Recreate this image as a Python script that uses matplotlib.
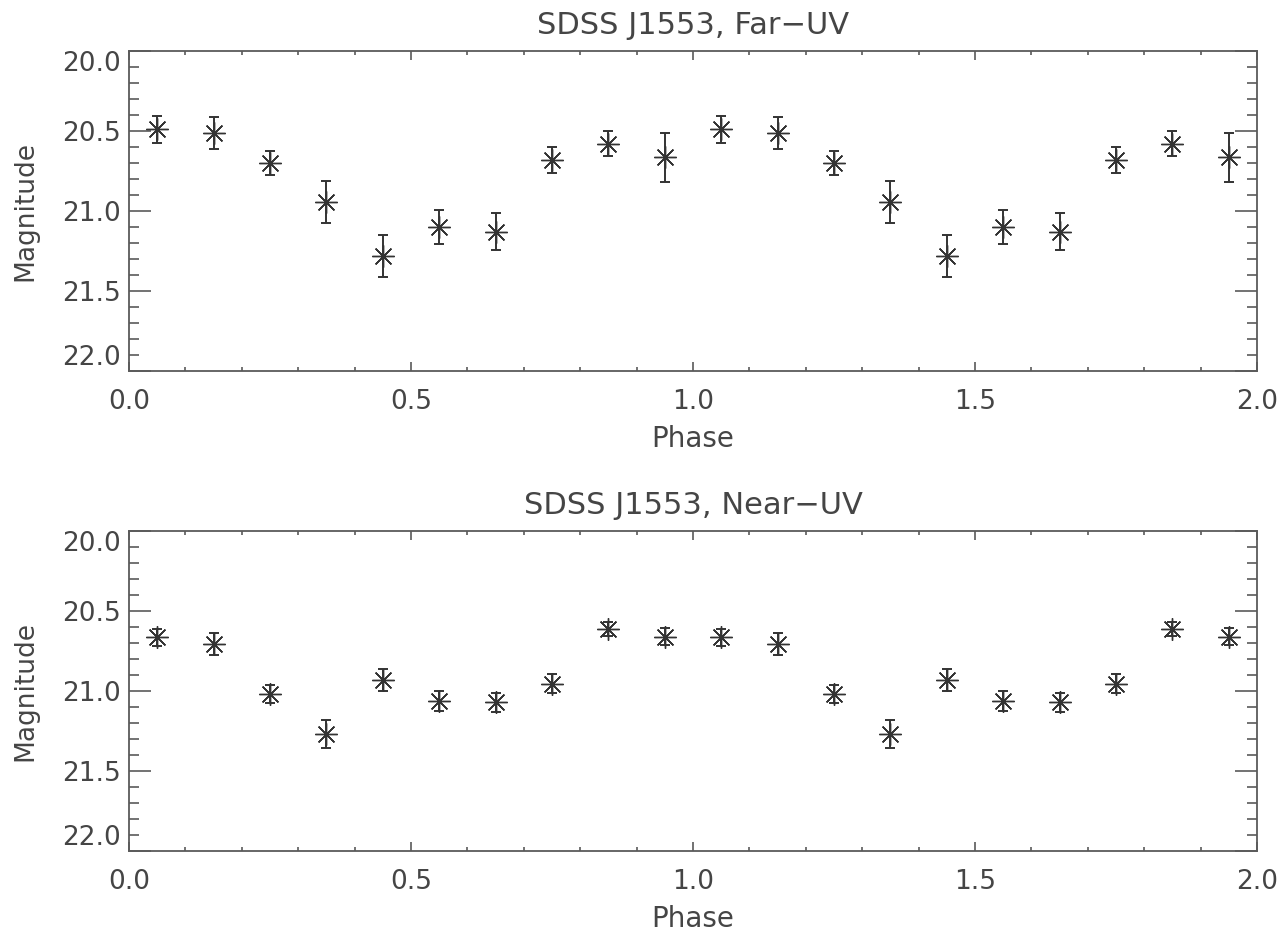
import matplotlib
matplotlib.use("Agg")
import matplotlib.pyplot as plt
from matplotlib.ticker import MultipleLocator, FixedLocator

# ---------------- data ----------------
phase = [0.05, 0.15, 0.25, 0.35, 0.45, 0.55, 0.65, 0.75, 0.85, 0.95,
         1.05, 1.15, 1.25, 1.35, 1.45, 1.55, 1.65, 1.75, 1.85, 1.95]

fuv_mag = [20.49, 20.51, 20.70, 20.945, 21.28, 21.10, 21.13, 20.68, 20.58, 20.665,
           20.49, 20.51, 20.70, 20.945, 21.28, 21.10, 21.13, 20.68, 20.58, 20.665]
fuv_err = [0.085, 0.10, 0.076, 0.13, 0.13, 0.108, 0.116, 0.082, 0.077, 0.152,
           0.085, 0.10, 0.076, 0.13, 0.13, 0.108, 0.116, 0.082, 0.077, 0.152]

nuv_mag = [20.665, 20.705, 21.02, 21.27, 20.93, 21.06, 21.07, 20.955, 20.613, 20.66,
           20.665, 20.705, 21.02, 21.27, 20.93, 21.06, 21.07, 20.955, 20.613, 20.66]
nuv_err = [0.055, 0.069, 0.057, 0.087, 0.068, 0.062, 0.060, 0.059, 0.044, 0.055,
           0.055, 0.069, 0.057, 0.087, 0.068, 0.062, 0.060, 0.059, 0.044, 0.055]

titles = ["SDSS J1553, Far\u2212UV", "SDSS J1553, Near\u2212UV"]
x_ticks = [0.0, 0.5, 1.0, 1.5, 2.0]
x_ticklabels = ["0.0", "0.5", "1.0", "1.5", "2.0"]
y_ticks = [20.0, 20.5, 21.0, 21.5, 22.0]
y_ticklabels = ["20.0", "20.5", "21.0", "21.5", "22.0"]

# ---------------- style ----------------
INK = "#454545"
FRAME = "#5a5a5a"
plt.rcParams["font.family"] = ["DejaVu Sans"]

fig = plt.figure(figsize=(12.83, 9.32), dpi=100)
W, H = 1283, 932
left, right = 129, 1257
panels = [(51, 371), (531, 851)]

series = [(fuv_mag, fuv_err), (nuv_mag, nuv_err)]

for (top, bot), (mag, err), title in zip(panels, series, titles):
    ax = fig.add_axes([left / W, 1 - bot / H, (right - left) / W, (bot - top) / H])
    ax.errorbar(phase, mag, yerr=err, fmt="none", ecolor="#333333",
                elinewidth=1.4, capsize=3.8, capthick=1.4)
    ax.plot(phase, mag, linestyle="none", marker=(8, 2, 0), markersize=16,
            markeredgewidth=1.0, color="#333333", markeredgecolor="#333333")

    ax.set_xlim(0.0, 2.0)
    ax.set_ylim(22.0, 20.0)

    ax.xaxis.set_major_locator(FixedLocator(x_ticks))
    ax.set_xticklabels(x_ticklabels)
    ax.xaxis.set_minor_locator(MultipleLocator(0.1))
    ax.yaxis.set_major_locator(FixedLocator(y_ticks))
    ax.set_yticklabels(y_ticklabels)
    ax.yaxis.set_minor_locator(MultipleLocator(0.1))

    ax.tick_params(axis="both", which="both", direction="in", colors=FRAME,
                   labelcolor=INK, top=True, right=True, width=1.2)
    ax.tick_params(axis="x", which="major", length=6.5, pad=13, labelsize=19)
    ax.tick_params(axis="x", which="minor", length=3.2)
    ax.tick_params(axis="y", which="major", length=16, pad=6, labelsize=19)
    ax.tick_params(axis="y", which="minor", length=7.2)

    for s in ax.spines.values():
        s.set_color(FRAME)
        s.set_linewidth(1.3)

    # IDL-like placement of end labels (kept inside the frame)
    yt = ax.yaxis.get_major_ticks()
    yt[0].label1.set_verticalalignment("top")
    yt[-1].label1.set_verticalalignment("bottom")

    ax.set_title(title, fontsize=22, color=INK, pad=12)
    ax.set_xlabel("Phase", fontsize=20, color=INK, labelpad=7)
    ax.set_ylabel("Magnitude", fontsize=19, color=INK, labelpad=17)

fig.savefig("out.png", dpi=100)
